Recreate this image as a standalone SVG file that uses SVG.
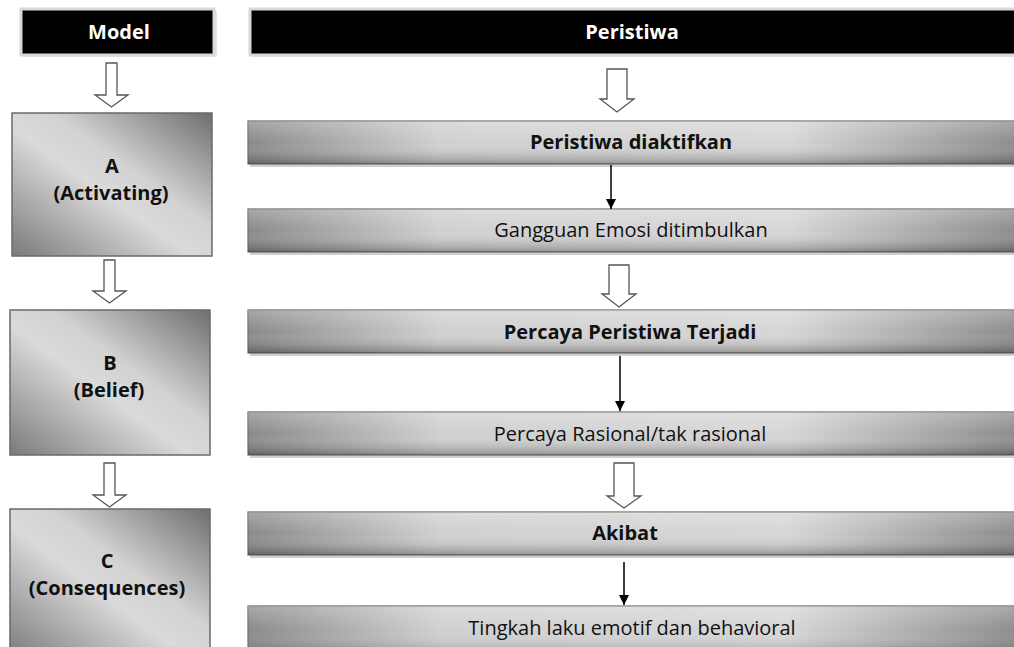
<svg xmlns="http://www.w3.org/2000/svg" width="1014" height="647" viewBox="0 0 1014 647">
<defs>
<linearGradient id="boxG" x1="0" y1="1" x2="1" y2="0">
<stop offset="0" stop-color="#7a7a7a"/>
<stop offset="0.45" stop-color="#dadada"/>
<stop offset="0.6" stop-color="#d2d2d2"/>
<stop offset="1" stop-color="#6e6e6e"/>
</linearGradient>
<linearGradient id="barG" x1="0" y1="0" x2="1" y2="0">
<stop offset="0" stop-color="#8a8a8a"/>
<stop offset="0.25" stop-color="#d0d0d0"/>
<stop offset="0.7" stop-color="#d6d6d6"/>
<stop offset="1" stop-color="#8c8c8c"/>
</linearGradient>
<linearGradient id="barV" x1="0" y1="0" x2="0" y2="1">
<stop offset="0" stop-color="#ffffff" stop-opacity="0.25"/>
<stop offset="0.5" stop-color="#ffffff" stop-opacity="0"/>
<stop offset="1" stop-color="#000000" stop-opacity="0.3"/>
</linearGradient>
<marker id="ah" viewBox="0 0 10 10" refX="10" refY="5" markerWidth="10" markerHeight="10" markerUnits="userSpaceOnUse" orient="auto">
<path d="M0,0 L10,5 L0,10 Z" fill="#000"/>
</marker>
</defs>
<style>
.hdr{fill:#000;stroke:#d8d8d8;stroke-width:3}
.hdrt{font-family:"Open Sans","Liberation Sans",sans-serif;font-weight:bold;font-size:20px;fill:#fff;text-anchor:middle}
.box{fill:url(#boxG);stroke:#6a6a6a;stroke-width:1.5}
.bar{fill:url(#barG);stroke:#6a6a6a;stroke-width:1.2}
.barv{fill:url(#barV)}
.shadow{fill:#cfcfcf}
.t{font-family:"Open Sans","Liberation Sans",sans-serif;font-size:20px;fill:#111;text-anchor:middle}
.b{font-weight:bold}
.hol{fill:#fff;stroke:#555;stroke-width:1.3}
.thin{stroke:#000;stroke-width:1.5;fill:none;marker-end:url(#ah)}
</style>
<rect width="1014" height="647" fill="#fff"/>

<g id="hdr-model">
<rect x="24" y="11" width="193" height="46" fill="#e6e6e6"/>
<rect class="hdr" x="21" y="9" width="193" height="46"/>
<text class="hdrt" x="119" y="39">Model</text>
</g>
<g id="hdr-peristiwa">
<rect x="253" y="11" width="770" height="46" fill="#e6e6e6"/>
<rect class="hdr" x="250" y="9" width="770" height="46"/>
<text class="hdrt" x="632" y="39">Peristiwa</text>
</g>

<g id="box-a">
<rect class="box" x="12" y="113" width="200" height="143"/>
<text class="t b" x="112" y="173">A</text>
<text class="t b" x="111" y="200">(Activating)</text>
</g>
<g id="box-b">
<rect class="box" x="10" y="310" width="200" height="145"/>
<text class="t b" x="110" y="370">B</text>
<text class="t b" x="109" y="397">(Belief)</text>
</g>
<g id="box-c">
<rect class="box" x="10" y="509" width="200" height="150"/>
<text class="t b" x="107" y="568">C</text>
<text class="t b" x="107" y="595">(Consequences)</text>
</g>

<g id="bar-1">
<rect class="shadow" x="250" y="163" width="770" height="4"/>
<rect class="bar" x="248" y="121" width="770" height="43"/>
<rect class="barv" x="248" y="121" width="770" height="43"/>
<text class="t b" x="631" y="149">Peristiwa diaktifkan</text>
</g>
<g id="bar-2">
<rect class="shadow" x="250" y="251" width="770" height="4"/>
<rect class="bar" x="248" y="209" width="770" height="43"/>
<rect class="barv" x="248" y="209" width="770" height="43"/>
<text class="t" x="631" y="237">Gangguan Emosi ditimbulkan</text>
</g>
<g id="bar-3">
<rect class="shadow" x="250" y="352" width="770" height="4"/>
<rect class="bar" x="248" y="310" width="770" height="43"/>
<rect class="barv" x="248" y="310" width="770" height="43"/>
<text class="t b" x="630" y="339">Percaya Peristiwa Terjadi</text>
</g>
<g id="bar-4">
<rect class="shadow" x="250" y="454" width="770" height="4"/>
<rect class="bar" x="248" y="412" width="770" height="43"/>
<rect class="barv" x="248" y="412" width="770" height="43"/>
<text class="t" x="630" y="441">Percaya Rasional/tak rasional</text>
</g>
<g id="bar-5">
<rect class="shadow" x="250" y="554" width="770" height="4"/>
<rect class="bar" x="248" y="512" width="770" height="43"/>
<rect class="barv" x="248" y="512" width="770" height="43"/>
<text class="t b" x="625" y="540">Akibat</text>
</g>
<g id="bar-6">
<rect class="bar" x="248" y="606" width="770" height="50"/>
<rect class="barv" x="248" y="606" width="770" height="50"/>
<text class="t" x="632" y="635">Tingkah laku emotif dan behavioral</text>
</g>

<g id="connectors">
<path class="hol" d="M106,63 H117 V95 H128 L111.5,107 L95,95 H106 Z"/>
<path class="hol" d="M104,260 H115 V291 H126 L109.5,303 L93,291 H104 Z"/>
<path class="hol" d="M104,463 H115 V495 H126 L109.5,507 L93,495 H104 Z"/>
<path class="hol" d="M607,69 H627 V99 H634 L617,112 L600,99 H607 Z"/>
<path class="hol" d="M609,265 H629 V294 H636 L619,307 L602,294 H609 Z"/>
<path class="hol" d="M614,463 H634 V496 H641 L624,508 L607,496 H614 Z"/>
<line class="thin" x1="611" y1="165" x2="611" y2="209"/>
<line class="thin" x1="620" y1="356" x2="620" y2="411"/>
<line class="thin" x1="624" y1="562" x2="624" y2="605"/>
</g>
</svg>
